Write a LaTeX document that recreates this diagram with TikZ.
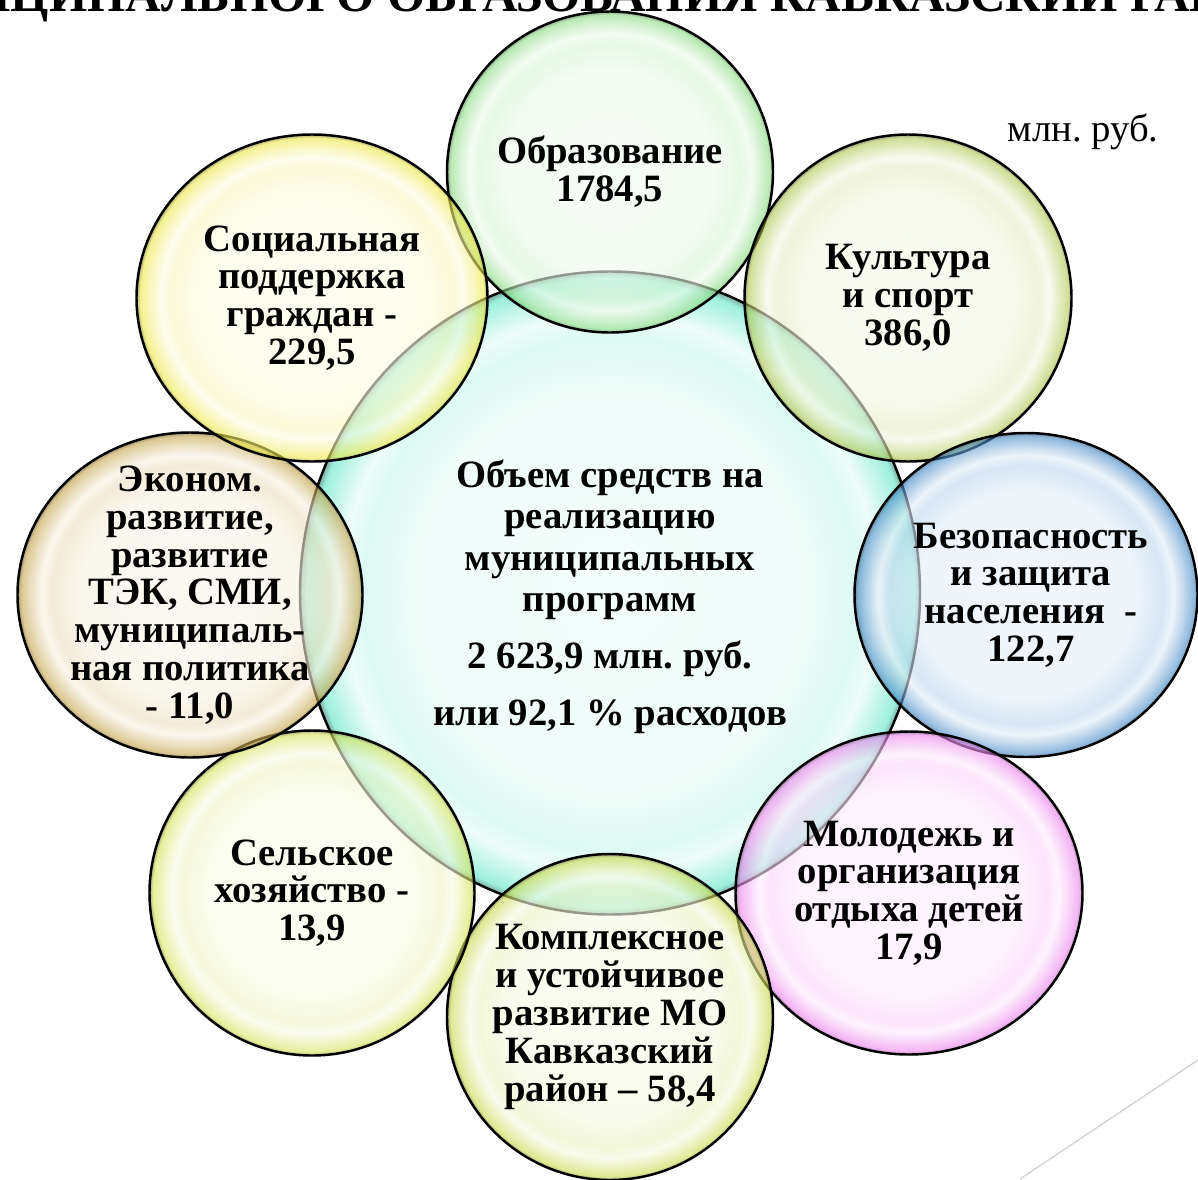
\documentclass[tikz,border=0pt]{standalone}
\usepackage{fontspec}
\setmainfont{Liberation Serif}
\usepackage{tikz}
\usetikzlibrary{shapes.geometric}
\frenchspacing
\definecolor{core}{HTML}{5FE6C6}
\definecolor{edu}{HTML}{8EDC86}
\definecolor{culture}{HTML}{B2C955}
\definecolor{safety}{HTML}{4A8CC8}
\definecolor{youth}{HTML}{EC86EC}
\definecolor{complex}{HTML}{C9D94E}
\definecolor{agri}{HTML}{D6E35C}
\definecolor{econ}{HTML}{C6A54C}
\definecolor{social}{HTML}{EDE84A}
\definecolor{decoline}{HTML}{D4D4D4}
% glossy bubble: pale middle, light ring, saturated rim (rim sits at 25bp)
\newcommand\mkbubble[2]{%
  \pgfdeclareradialshading{#1}{\pgfpointorigin}{%
    color(0bp)=(#2!12!white); color(16bp)=(#2!15!white);
    color(20bp)=(#2!35!white); color(21.6bp)=(#2!16!white);
    color(23.2bp)=(#2!60!white); color(24.5bp)=(#2); color(25bp)=(#2!50!black);
    color(50bp)=(#2!50!black)}}
\mkbubble{core-sh}{core}
\mkbubble{edu-sh}{edu}
\mkbubble{culture-sh}{culture}
\mkbubble{safety-sh}{safety}
\mkbubble{youth-sh}{youth}
\mkbubble{complex-sh}{complex}
\mkbubble{agri-sh}{agri}
\mkbubble{econ-sh}{econ}
\mkbubble{social-sh}{social}
\tikzset{
  bubble/.style={ellipse, shade, draw=black, line width=1.4pt, inner sep=0pt, fill opacity=0.62},
  lab/.style={font=\bfseries\fontsize{22}{21.5}\selectfont, align=center, inner sep=0pt},
  corelab/.style={lab, font=\bfseries\fontsize{22}{23.5}\selectfont},
  unit/.style={font=\fontsize{22}{24}\selectfont, inner sep=0pt},
  title/.style={font=\bfseries\fontsize{28}{30}\selectfont, inner sep=0pt},
  deco/.style={draw=decoline, line width=0.8pt},
}

\begin{document}
\begin{tikzpicture}[x=0.2mm, y=-0.2mm]
  \useasboundingbox (0,0) rectangle (1198,1179);
  \clip (0,0) rectangle (1198,1179);
  % heading, cut by the top edge
  \node[title, anchor=base] (ttl) at (578,11) {МУНИЦИПАЛЬНОГО ОБРАЗОВАНИЯ КАВКАЗСКИЙ РАЙОН};
  \node[unit] (units) at (1083,132) {млн. руб.};
  % bubbles
  \node[bubble, shading=core-sh, minimum width=124mm, minimum height=128.6mm] (core) at (610,593) {};
  \node[bubble, shading=edu-sh, minimum width=65.2mm, minimum height=64.2mm] (edu) at (610,172) {};
  \node[bubble, shading=culture-sh, minimum width=65.4mm, minimum height=65.4mm] (culture) at (908,298) {};
  \node[bubble, shading=safety-sh, minimum width=68.6mm, minimum height=64.8mm] (safety) at (1026,595) {};
  \node[bubble, shading=youth-sh, minimum width=69.4mm, minimum height=64.6mm] (youth) at (909,893) {};
  \node[bubble, shading=complex-sh, minimum width=65.2mm, minimum height=65.2mm] (complex) at (610,1017) {};
  \node[bubble, shading=agri-sh, minimum width=65mm, minimum height=65mm] (agri) at (312,893) {};
  \node[bubble, shading=econ-sh, minimum width=69mm, minimum height=65mm] (econ) at (190,595) {};
  \node[bubble, shading=social-sh, minimum width=70.2mm, minimum height=65.4mm] (social) at (312,298) {};
  % texts on top
  \node[corelab] (core-t) at (610,597) {Объем средств на\\реализацию\\муниципальных\\программ\\[9pt]2 623,9 млн. руб.\\[9pt]или 92,1 \% расходов};
  \node[lab] (edu-t) at (edu) {Образование\\1784,5};
  \node[lab] (culture-t) at (culture) {Культура\\и спорт\\386,0};
  \node[lab] (safety-t) at (1031,595) {Безопасность\\и защита\\населения\ \ -\\122,7};
  \node[lab] (youth-t) at (youth) {Молодежь и\\организация\\отдыха детей\\17,9};
  \node[lab] (complex-t) at (complex) {Комплексное\\и устойчивое\\развитие МО\\Кавказский\\район – 58,4};
  \node[lab] (agri-t) at (agri) {Сельское\\хозяйство -\\13,9};
  \node[lab] (econ-t) at (econ) {Эконом.\\развитие,\\развитие\\ТЭК, СМИ,\\муниципаль-\\ная политика\\- 11,0};
  \node[lab] (social-t) at (social) {Социальная\\поддержка\\граждан -\\229,5};
  % slide ornament
  \coordinate (deco-a) at (1198,1060);
  \coordinate (deco-b) at (1020,1179);
  \draw[deco] (deco-a) -- (deco-b);
\end{tikzpicture}
\end{document}
